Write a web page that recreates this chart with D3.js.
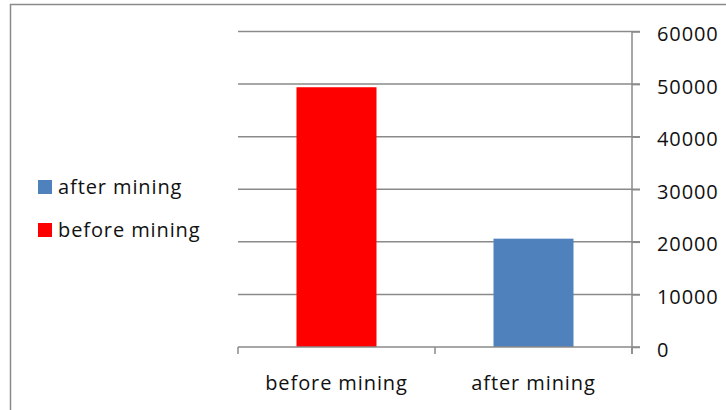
<!DOCTYPE html>
<html>
<head>
<meta charset="utf-8">
<script src="https://cdn.jsdelivr.net/npm/d3@7"></script>
<style>
  body { margin: 0; background: #fff; }
  text { font-family: "Open Sans", sans-serif; fill: #111; letter-spacing: 0.9px; }
</style>
</head>
<body>
<svg id="chart" width="726" height="410"></svg>
<script>
// chart data
const categories = ["before mining", "after mining"];
const values = [49400, 20600];
const colors = ["#ff0000", "#4f81bd"];
const yTicks = [0, 10000, 20000, 30000, 40000, 50000, 60000];
const legendItems = ["after mining", "before mining"];
const legendColors = ["#4f81bd", "#ff0000"];

let svg = d3.select("#chart");

// outer chart frame (cut off at right & bottom)
svg.append("rect")
    .attr("x", 10.5).attr("y", 4.5)
    .attr("width", 760).attr("height", 460)
    .attr("fill", "none")
    .attr("stroke", "#8a8a8a")
    .attr("stroke-width", 1.5);

let plotLeft = 238, plotRight = 632, plotTop = 31.5, plotBottom = 347;

let xScale = d3.scaleBand()
    .domain(categories)
    .range([plotLeft, plotRight]);
let yScale = d3.scaleLinear()
    .domain([0, 60000])
    .range([plotBottom, plotTop]);

// gridlines
svg.append("g").selectAll("line").data(yTicks.slice(1)).enter().append("line")
    .attr("x1", plotLeft).attr("x2", plotRight + 8)
    .attr("y1", d => yScale(d)).attr("y2", d => yScale(d))
    .attr("stroke", "#8a8a8a")
    .attr("stroke-width", 1.5);

// bars
svg.append("g").selectAll("rect").data(values).enter().append("rect")
    .attr("x", (d, i) => xScale(categories[i]) + xScale.bandwidth() / 2 - 40)
    .attr("width", 80)
    .attr("y", d => yScale(d))
    .attr("height", d => plotBottom - yScale(d))
    .attr("fill", (d, i) => colors[i]);

// right y axis
let yAxis = d3.axisRight(yScale)
    .tickValues(yTicks)
    .tickSize(8)
    .tickPadding(17)
    .tickFormat(d3.format("d"));
let yg = svg.append("g")
    .attr("transform", `translate(${plotRight},0)`)
    .call(yAxis);
yg.select(".domain").attr("stroke", "#8a8a8a").attr("stroke-width", 1.5)
    .attr("d", `M0,${plotTop}V${plotBottom + 7}`);
yg.selectAll(".tick line").attr("stroke", "#8a8a8a").attr("stroke-width", 1.5);
yg.selectAll(".tick text")
    .attr("font-size", 20)
    .attr("font-family", "Open Sans")
    .attr("fill", "#111")
    .attr("dy", "0.45em");

// x axis
let xg = svg.append("g");
xg.append("line")
    .attr("x1", plotLeft).attr("x2", plotRight + 8)
    .attr("y1", plotBottom).attr("y2", plotBottom)
    .attr("stroke", "#8a8a8a").attr("stroke-width", 1.5);
let xTickPos = [plotLeft, plotLeft + xScale.bandwidth(), plotRight];
xg.selectAll("line.tk").data(xTickPos).enter().append("line")
    .attr("class", "tk")
    .attr("x1", d => d).attr("x2", d => d)
    .attr("y1", plotBottom).attr("y2", plotBottom + 7)
    .attr("stroke", "#8a8a8a").attr("stroke-width", 1.5);
xg.selectAll("text").data(categories).enter().append("text")
    .attr("x", d => xScale(d) + xScale.bandwidth() / 2)
    .attr("y", 390)
    .attr("text-anchor", "middle")
    .attr("font-size", 20)
    .text(d => d);

// legend
let lg = svg.append("g").selectAll("g").data(legendItems).enter().append("g")
    .attr("transform", (d, i) => `translate(38,${180 + i * 43})`);
lg.append("rect")
    .attr("width", 14).attr("height", 14)
    .attr("fill", (d, i) => legendColors[i]);
lg.append("text")
    .attr("x", 20).attr("y", 13.5)
    .attr("font-size", 20)
    .text(d => d);
</script>
</body>
</html>
